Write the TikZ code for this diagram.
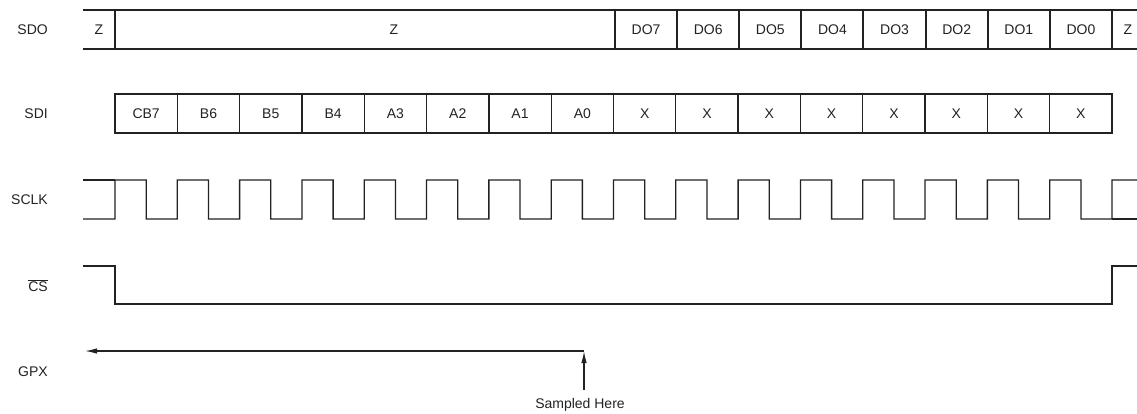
\documentclass[tikz,border=0pt]{standalone}
\usepackage{fontspec}
\setmainfont{Liberation Sans}
\usetikzlibrary{arrows.meta}
\definecolor{ink}{HTML}{222222}
\begin{document}
\begin{tikzpicture}[x=1pt,y=-1pt,
  wire/.style={draw=ink,line width=1.3pt,line join=miter},
  lbl/.style={text=ink,font=\fontsize{14}{16}\selectfont,inner sep=0pt},
  sig/.style={lbl,anchor=east},
  arr/.style={wire,-{Latex[length=12pt,width=5.5pt]}}]
\useasboundingbox (0,0) rectangle (1137,413);
% signal names
\node[sig] (nSDO) at (48,30) {SDO};
\node[sig] (nSDI) at (48,114) {SDI};
\node[sig] (nSCLK) at (48,200) {SCLK};
\node[sig] (nCS) at (48,286) {$\overline{\hbox{CS}}$};
\node[sig] (nGPX) at (48,372) {GPX};
% SDO
\draw[wire] (83,10) -- (1137,10);
\draw[wire] (83,49) -- (1137,49);
\foreach \x in {115,615,677,739,801,863,926,988,1050,1112}
  \draw[wire] (\x,10) -- (\x,49);
\node[lbl] (o1) at (99,30) {Z};
\node[lbl] (o2) at (394,30) {Z};
\foreach \t [count=\i from 0] in {DO7,DO6,DO5,DO4,DO3,DO2,DO1,DO0}
  \node[lbl] (do\i) at ({615+62.125*\i+31.06},30) {\t};
\node[lbl] (o3) at (1128,30) {Z};
% SDI
\draw[wire] (115,94) rectangle (1112,133);
\foreach \t [count=\i from 0] in {CB7,B6,B5,B4,A3,A2,A1,A0,X,X,X,X,X,X,X,X}{
  \node[lbl] (di\i) at ({115+62.3125*\i+31.16},114) {\t};
  \ifnum\i>0 \draw[wire] ({115+62.3125*\i},94) -- ({115+62.3125*\i},133);\fi
}
% SCLK
\draw[wire] (83,180) -- (115,180);
\draw[wire] (83,219) -- (115,219)
  \foreach \k in {0,...,15}{ -- ({115+62.3125*\k},180) -- ({146.2+62.3125*\k},180)
    -- ({146.2+62.3125*\k},219) -- ({177.3+62.3125*\k},219)} -- (1112,180) -- (1137,180);
\draw[wire] (1112,219) -- (1137,219);
% CS
\draw[wire] (83,266) -- (115,266) -- (115,304) -- (1112,304) -- (1112,266) -- (1137,266);
% GPX
\node[lbl] (samp) at (580,405) {Sampled Here};
\coordinate (c1) at (584,390);
\coordinate (c2) at (584,351);
\coordinate (c3) at (85,351);
\draw[arr] (c1) -- (c2);
\draw[arr] (c2) -- (c3);
\end{tikzpicture}
\end{document}
